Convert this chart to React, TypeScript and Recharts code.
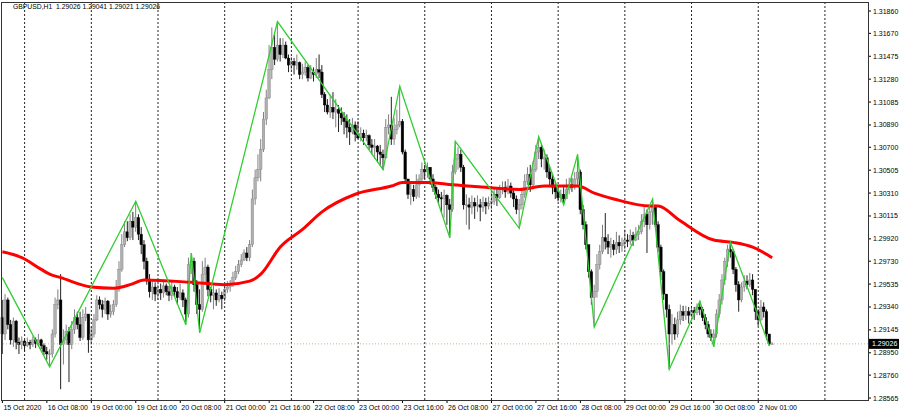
import React from 'react'
import {
    ComposedChart,
    Bar,
    Line,
    XAxis,
    YAxis,
    ReferenceLine,
} from 'recharts'

// GBPUSD H1 candles, 15 Oct 2020 16:00 .. 2 Nov 2020
const firstOpen = 1.2925

const closes = [
    1.2911, 1.2940, 1.2919, 1.2906, 1.2922, 1.2904, 1.2902, 1.2905, 1.2901, 1.2904,
    1.2902, 1.2906, 1.2903, 1.2906, 1.2901, 1.2896, 1.2894, 1.2894, 1.2911, 1.2936,
    1.2940, 1.2902, 1.2906, 1.2913, 1.2902, 1.2915, 1.2925, 1.2919, 1.2908, 1.2925,
    1.2928, 1.2906, 1.2911, 1.2923, 1.2940, 1.2936, 1.2932, 1.2939, 1.2928, 1.2930,
    1.2936, 1.2949, 1.2966, 1.2987, 1.2998, 1.2993, 1.3007, 1.3002, 1.3010, 1.2996,
    1.2987, 1.2973, 1.2957, 1.2947, 1.2951, 1.2945, 1.2949, 1.2946, 1.2952, 1.2947,
    1.2944, 1.2951, 1.2947, 1.2942, 1.2946, 1.2940, 1.2928, 1.2970, 1.2973, 1.2953,
    1.2936, 1.2932, 1.2962, 1.2968, 1.2949, 1.2944, 1.2946, 1.2940, 1.2944, 1.2941,
    1.2949, 1.2951, 1.2954, 1.2959, 1.2964, 1.2970, 1.2974, 1.2980, 1.2976, 1.2987,
    1.3026, 1.3044, 1.3051, 1.3068, 1.3094, 1.3112, 1.3136, 1.3155, 1.3145, 1.3157,
    1.3149, 1.3157, 1.3146, 1.3140, 1.3143, 1.3140, 1.3142, 1.3132, 1.3134, 1.3138,
    1.3129, 1.3134, 1.3132, 1.3136, 1.3134, 1.3115, 1.3106, 1.3100, 1.3104, 1.3100,
    1.3102, 1.3099, 1.3095, 1.3092, 1.3087, 1.3083, 1.3089, 1.3081, 1.3078, 1.3082,
    1.3078, 1.3080, 1.3072, 1.3070, 1.3071, 1.3066, 1.3064, 1.3061, 1.3087, 1.3089,
    1.3077, 1.3085, 1.3089, 1.3092, 1.3066, 1.3043, 1.3030, 1.3034, 1.3028, 1.3038,
    1.3043, 1.3051, 1.3049, 1.3053, 1.3043, 1.3036, 1.3030, 1.3027, 1.3026, 1.3029,
    1.3021, 1.3017, 1.3049, 1.3060, 1.3064, 1.3053, 1.3021, 1.3021, 1.3019, 1.3023,
    1.3020, 1.3021, 1.3019, 1.3023, 1.3020, 1.3022, 1.3024, 1.3030, 1.3027, 1.3034,
    1.3036, 1.3032, 1.3037, 1.3031, 1.3026, 1.3017, 1.3021, 1.3030, 1.3041, 1.3047,
    1.3038, 1.3051, 1.3066, 1.3070, 1.3060, 1.3061, 1.3049, 1.3043, 1.3036, 1.3032,
    1.3027, 1.3030, 1.3026, 1.3034, 1.3038, 1.3036, 1.3043, 1.3049, 1.3017, 1.3004,
    1.2987, 1.2964, 1.2942, 1.2947, 1.2970, 1.2981, 1.2993, 1.2990, 1.2985, 1.2987,
    1.2983, 1.2989, 1.2986, 1.2988, 1.2991, 1.2990, 1.2995, 1.2991, 1.2996, 1.2998,
    1.3007, 1.3013, 1.3004, 1.3015, 1.3019, 1.3004, 1.2985, 1.2964, 1.2945, 1.2932,
    1.2911, 1.2919, 1.2911, 1.2923, 1.2930, 1.2927, 1.2930, 1.2927, 1.2931, 1.2929,
    1.2934, 1.2932, 1.2925, 1.2919, 1.2911, 1.2908, 1.2911, 1.2928, 1.2940, 1.2957,
    1.2973, 1.2983, 1.2981, 1.2966, 1.2953, 1.2940, 1.2951, 1.2956, 1.2953, 1.2957,
    1.2949, 1.2930, 1.2923, 1.2934, 1.2930, 1.2911, 1.29026, 1.29026,
]

const highs = [
    1.2940, 1.2945, 1.2942, 1.2923, 1.2925, 1.2923, 1.2908, 1.2909, 1.2906, 1.2908,
    1.2906, 1.2909, 1.2908, 1.2911, 1.2907, 1.2903, 1.2900, 1.2898, 1.2915, 1.2942,
    1.2949, 1.2962, 1.2915, 1.2919, 1.2917, 1.2922, 1.2932, 1.2930, 1.2930, 1.2932,
    1.2934, 1.2928, 1.2917, 1.2928, 1.2944, 1.2943, 1.2940, 1.2942, 1.2940, 1.2936,
    1.2940, 1.2957, 1.2973, 1.2996, 1.3007, 1.3007, 1.3013, 1.3015, 1.3024, 1.3013,
    1.3002, 1.2991, 1.2976, 1.2962, 1.2956, 1.2955, 1.2953, 1.2954, 1.2957, 1.2954,
    1.2952, 1.2956, 1.2953, 1.2951, 1.2954, 1.2949, 1.2942, 1.2976, 1.2980, 1.2976,
    1.2957, 1.2949, 1.2973, 1.2976, 1.2970, 1.2951, 1.2952, 1.2949, 1.2950, 1.2947,
    1.2951, 1.2956, 1.2957, 1.2964, 1.2969, 1.2974, 1.2979, 1.2983, 1.2985, 1.2991,
    1.3034, 1.3051, 1.3064, 1.3077, 1.3100, 1.3119, 1.3157, 1.3172, 1.3166, 1.3177,
    1.3163, 1.3163, 1.3160, 1.3149, 1.3147, 1.3146, 1.3149, 1.3143, 1.3141, 1.3143,
    1.3140, 1.3140, 1.3138, 1.3146, 1.3149, 1.3140, 1.3117, 1.3111, 1.3115, 1.3117,
    1.3111, 1.3106, 1.3104, 1.3100, 1.3098, 1.3094, 1.3095, 1.3092, 1.3092, 1.3087,
    1.3085, 1.3085, 1.3081, 1.3077, 1.3077, 1.3072, 1.3072, 1.3068, 1.3094, 1.3098,
    1.3113, 1.3095, 1.3102, 1.3122, 1.3094, 1.3068, 1.3043, 1.3041, 1.3038, 1.3047,
    1.3047, 1.3057, 1.3055, 1.3057, 1.3053, 1.3047, 1.3038, 1.3034, 1.3032, 1.3034,
    1.3030, 1.3026, 1.3055, 1.3075, 1.3070, 1.3068, 1.3055, 1.3030, 1.3027, 1.3029,
    1.3027, 1.3029, 1.3026, 1.3028, 1.3027, 1.3028, 1.3032, 1.3036, 1.3036, 1.3038,
    1.3041, 1.3041, 1.3043, 1.3040, 1.3034, 1.3029, 1.3026, 1.3034, 1.3047, 1.3053,
    1.3055, 1.3058, 1.3072, 1.3079, 1.3072, 1.3068, 1.3064, 1.3053, 1.3047, 1.3041,
    1.3036, 1.3034, 1.3036, 1.3043, 1.3044, 1.3044, 1.3049, 1.3064, 1.3051, 1.3021,
    1.3007, 1.2987, 1.2966, 1.2953, 1.2979, 1.2987, 1.3004, 1.3014, 1.2996, 1.2993,
    1.2991, 1.2998, 1.2995, 1.2993, 1.3000, 1.2996, 1.3000, 1.2998, 1.3002, 1.3004,
    1.3013, 1.3019, 1.3017, 1.3021, 1.3026, 1.3021, 1.3007, 1.2987, 1.2966, 1.2945,
    1.2936, 1.2928, 1.2925, 1.2930, 1.2936, 1.2935, 1.2935, 1.2934, 1.2935, 1.2934,
    1.2937, 1.2939, 1.2934, 1.2928, 1.2922, 1.2915, 1.2915, 1.2932, 1.2945, 1.2962,
    1.2976, 1.2987, 1.2989, 1.2983, 1.2968, 1.2956, 1.2955, 1.2961, 1.2961, 1.2963,
    1.2962, 1.2940, 1.2932, 1.2940, 1.2938, 1.2932, 1.2911, 1.29041,
]

const lows = [
    1.2894, 1.2906, 1.2915, 1.2902, 1.2900, 1.2898, 1.2894, 1.2898, 1.2896, 1.2900,
    1.2898, 1.2900, 1.2899, 1.2901, 1.2898, 1.2893, 1.2889, 1.2883, 1.2891, 1.2908,
    1.2932, 1.2864, 1.2885, 1.2902, 1.2870, 1.2898, 1.2911, 1.2915, 1.2905, 1.2906,
    1.2922, 1.2895, 1.2902, 1.2908, 1.2922, 1.2932, 1.2925, 1.2928, 1.2923, 1.2925,
    1.2927, 1.2934, 1.2947, 1.2964, 1.2985, 1.2990, 1.2991, 1.2991, 1.2998, 1.2991,
    1.2979, 1.2966, 1.2953, 1.2942, 1.2940, 1.2939, 1.2940, 1.2940, 1.2942, 1.2944,
    1.2939, 1.2940, 1.2943, 1.2936, 1.2940, 1.2934, 1.2919, 1.2925, 1.2962, 1.2947,
    1.2928, 1.2912, 1.2930, 1.2953, 1.2943, 1.2938, 1.2932, 1.2935, 1.2938, 1.2932,
    1.2939, 1.2946, 1.2947, 1.2951, 1.2957, 1.2962, 1.2968, 1.2973, 1.2973, 1.2973,
    1.2985, 1.3021, 1.3041, 1.3041, 1.3066, 1.3089, 1.3111, 1.3128, 1.3140, 1.3143,
    1.3143, 1.3146, 1.3145, 1.3134, 1.3136, 1.3132, 1.3136, 1.3128, 1.3128, 1.3131,
    1.3126, 1.3128, 1.3126, 1.3129, 1.3129, 1.3112, 1.3100, 1.3098, 1.3095, 1.3094,
    1.3087, 1.3083, 1.3089, 1.3081, 1.3078, 1.3072, 1.3081, 1.3075, 1.3077, 1.3075,
    1.3072, 1.3075, 1.3068, 1.3064, 1.3060, 1.3057, 1.3055, 1.3051, 1.3060, 1.3081,
    1.3072, 1.3072, 1.3081, 1.3087, 1.3064, 1.3040, 1.3026, 1.3021, 1.3024, 1.3026,
    1.3027, 1.3040, 1.3043, 1.3044, 1.3038, 1.3032, 1.3026, 1.3021, 1.3015, 1.3010,
    1.3004, 1.2993, 1.3015, 1.3047, 1.3051, 1.3049, 1.3017, 1.3004, 1.3000, 1.3013,
    1.3009, 1.3015, 1.3007, 1.3015, 1.3013, 1.3017, 1.3017, 1.3021, 1.3020, 1.3026,
    1.3030, 1.3027, 1.3030, 1.3027, 1.3019, 1.3013, 1.3001, 1.3017, 1.3027, 1.3038,
    1.3032, 1.3034, 1.3049, 1.3060, 1.3053, 1.3051, 1.3044, 1.3036, 1.3030, 1.3026,
    1.3024, 1.3023, 1.3021, 1.3027, 1.3030, 1.3032, 1.3034, 1.3038, 1.3013, 1.3000,
    1.2983, 1.2959, 1.2936, 1.2917, 1.2942, 1.2966, 1.2979, 1.2983, 1.2979, 1.2976,
    1.2978, 1.2979, 1.2980, 1.2981, 1.2983, 1.2985, 1.2987, 1.2986, 1.2990, 1.2991,
    1.2996, 1.3002, 1.2980, 1.3000, 1.3004, 1.3002, 1.2981, 1.2957, 1.2940, 1.2925,
    1.2881, 1.2902, 1.2906, 1.2908, 1.2919, 1.2922, 1.2923, 1.2920, 1.2925, 1.2923,
    1.2927, 1.2927, 1.2922, 1.2915, 1.2908, 1.2905, 1.2900, 1.2908, 1.2925, 1.2936,
    1.2953, 1.2968, 1.2976, 1.2962, 1.2947, 1.2930, 1.2938, 1.2947, 1.2949, 1.2951,
    1.2944, 1.2923, 1.2918, 1.2922, 1.2925, 1.2906, 1.2901, 1.29021,
]

// moving average (red), read at these bars
const maBars = [0, 7, 14, 17, 21, 32, 40, 46, 51, 68, 80, 89, 93, 100, 108, 115, 127, 140, 144, 153, 162, 174, 186, 195, 207, 213, 220, 233, 236, 243, 256, 263, 270, 277]
const maValues = [1.2981, 1.2976, 1.2966, 1.2962, 1.2959, 1.2951, 1.2950, 1.2953, 1.2957, 1.2955, 1.2953, 1.2956, 1.2962, 1.2985, 1.3000, 1.3015, 1.3030, 1.3037, 1.3040, 1.3040, 1.3038, 1.3036, 1.3034, 1.3037, 1.3037, 1.3031, 1.3026, 1.3020, 1.3020, 1.3009, 1.2991, 1.2989, 1.2985, 1.2976]

// zigzag pivots (green)
const zzBars = [0, 17, 48, 66, 68, 71, 99, 137, 143, 161, 163, 186, 193, 202, 207, 213, 234, 240, 251, 256, 262, 276]
const zzValues = [1.2959, 1.2883, 1.3024, 1.2919, 1.2980, 1.2912, 1.3177, 1.3051, 1.3122, 1.2993, 1.3075, 1.3001, 1.3079, 1.3021, 1.3064, 1.2917, 1.3026, 1.2881, 1.2939, 1.2900, 1.2989, 1.2901]

const timeTickBars = [0, 16, 32, 48, 64, 80, 96, 112, 128, 144, 160, 176, 192, 208, 224, 240, 256, 272]
const timeTickLabels = [
    '15 Oct 2020', '16 Oct 08:00', '19 Oct 00:00', '19 Oct 16:00', '20 Oct 08:00', '21 Oct 00:00',
    '21 Oct 16:00', '22 Oct 08:00', '23 Oct 00:00', '23 Oct 16:00', '26 Oct 08:00', '27 Oct 00:00',
    '27 Oct 16:00', '28 Oct 08:00', '29 Oct 00:00', '29 Oct 16:00', '30 Oct 08:00', '2 Nov 01:00',
]
const daySeparatorBars = [8, 32, 56, 80, 104, 128, 152, 176, 200, 224, 248, 272, 296]

const priceTicks = [
    1.3186, 1.3167, 1.31475, 1.3128, 1.31085, 1.3089, 1.307, 1.30505, 1.3031,
    1.30115, 1.2992, 1.2973, 1.29535, 1.2934, 1.29145, 1.2895, 1.2876, 1.28565,
]
const lastPrice = 1.29026
const totalSlots = 312

const FONT = '"Liberation Sans", Arial, sans-serif'

if (typeof document !== 'undefined') document.body.style.margin = '0'

const rows = Array.from({ length: totalSlots }, (_, i) => {
    const row: any = { i }
    if (i < closes.length) {
        const open = i === 0 ? firstOpen : closes[i - 1]
        const close = closes[i]
        const high = Math.max(highs[i], open, close)
        const low = Math.min(lows[i], open, close)
        row.open = open
        row.close = close
        row.high = high
        row.low = low
        row.range = [low, high]
    }
    const m = maBars.indexOf(i)
    if (m >= 0) row.ma = maValues[m]
    const z = zzBars.indexOf(i)
    if (z >= 0) row.zz = zzValues[z]
    return row
})

const Candle = (props: any) => {
    const { x, y, width, height, payload } = props
    if (!payload || payload.high == null) return null
    const top = Math.min(y, y + height)
    const h = Math.abs(height)
    const span = payload.high - payload.low
    const py = (p: number) => (span > 0 ? top + ((payload.high - p) / span) * h : top)
    const cx = x + width / 2
    const bull = payload.close >= payload.open
    const bTop = py(Math.max(payload.open, payload.close))
    const bBot = py(Math.min(payload.open, payload.close))
    return (
        <g>
            <line x1={cx} x2={cx} y1={top} y2={top + h} stroke={bull ? '#808080' : '#222'} strokeWidth={1} />
            <rect
                x={cx - 1.3}
                y={bTop}
                width={2.6}
                height={Math.max(bBot - bTop, 0.8)}
                fill={bull ? '#b0b0b0' : '#000'}
                stroke={bull ? '#808080' : '#000'}
                strokeWidth={0.4}
            />
        </g>
    )
}

const TimeTick = (props: any) => {
    const { x, y, payload } = props
    const k = timeTickBars.indexOf(payload.value)
    if (k < 0) return null
    return (
        <g>
            <line x1={x} x2={x} y1={y} y2={y + 3} stroke="#000" />
            <text x={x + 1} y={y + 10} fontSize={7} fontFamily={FONT} fill="#000">
                {timeTickLabels[k]}
            </text>
        </g>
    )
}

const PriceTick = (props: any) => {
    const { x, y, payload } = props
    return (
        <g>
            <line x1={x} x2={x + 3} y1={y} y2={y} stroke="#000" />
            <text x={x + 5} y={y + 2.5} fontSize={7} fontFamily={FONT} fill="#000">
                {Number(payload.value).toFixed(5)}
            </text>
        </g>
    )
}

const PriceTag = (props: any) => {
    const vb = props.viewBox || {}
    const x = (vb.x || 0) + (vb.width || 0)
    const y = vb.y || 0
    return (
        <g>
            <rect x={x} y={y - 5} width={31} height={10} fill="#000" />
            <text x={x + 4} y={y + 2.5} fontSize={7} fontFamily={FONT} fill="#fff">
                {lastPrice.toFixed(5)}
            </text>
        </g>
    )
}

export default function App() {
    return (
        <div style={{ position: 'relative', width: 900, height: 415, background: '#fff' }}>
            <ComposedChart
                width={900}
                height={415}
                data={rows}
                margin={{ top: 2, right: 0, bottom: 0, left: 1 }}
            >
                <XAxis
                    dataKey="i"
                    type="category"
                    ticks={timeTickBars}
                    interval={0}
                    tick={<TimeTick />}
                    tickLine={false}
                    tickSize={0}
                    tickMargin={0}
                    axisLine={false}
                    height={15}
                />
                <YAxis
                    orientation="right"
                    domain={[1.28548, 1.31937]}
                    ticks={priceTicks}
                    interval={0}
                    tick={<PriceTick />}
                    tickLine={false}
                    tickSize={0}
                    tickMargin={0}
                    axisLine={false}
                    width={32}
                    allowDataOverflow
                />
                {daySeparatorBars.map((d) => (
                    <ReferenceLine key={d} x={d} stroke="#222" strokeDasharray="2 2" />
                ))}
                <ReferenceLine
                    y={lastPrice}
                    stroke="#c8b48c"
                    strokeDasharray="1 2"
                    label={<PriceTag />}
                />
                <Bar dataKey="range" shape={<Candle />} isAnimationActive={false} />
                <Line
                    dataKey="ma"
                    type="monotone"
                    stroke="#ff0000"
                    strokeWidth={3}
                    dot={false}
                    connectNulls
                    isAnimationActive={false}
                />
                <Line
                    dataKey="zz"
                    type="linear"
                    stroke="#32cd32"
                    strokeWidth={1.3}
                    dot={false}
                    connectNulls
                    isAnimationActive={false}
                />
            </ComposedChart>
            <div
                style={{
                    position: 'absolute',
                    left: 1,
                    top: 2,
                    width: 868,
                    height: 399,
                    border: '1px solid #333',
                    boxSizing: 'border-box',
                    pointerEvents: 'none',
                }}
            />
            <div
                style={{
                    position: 'absolute',
                    left: 13,
                    top: 4,
                    fontSize: 6.8,
                    fontFamily: FONT,
                    color: '#000',
                    whiteSpace: 'pre',
                    lineHeight: 1,
                }}
            >
                {'GBPUSD,H1  1.29026 1.29041 1.29021 1.29026'}
            </div>
        </div>
    )
}
